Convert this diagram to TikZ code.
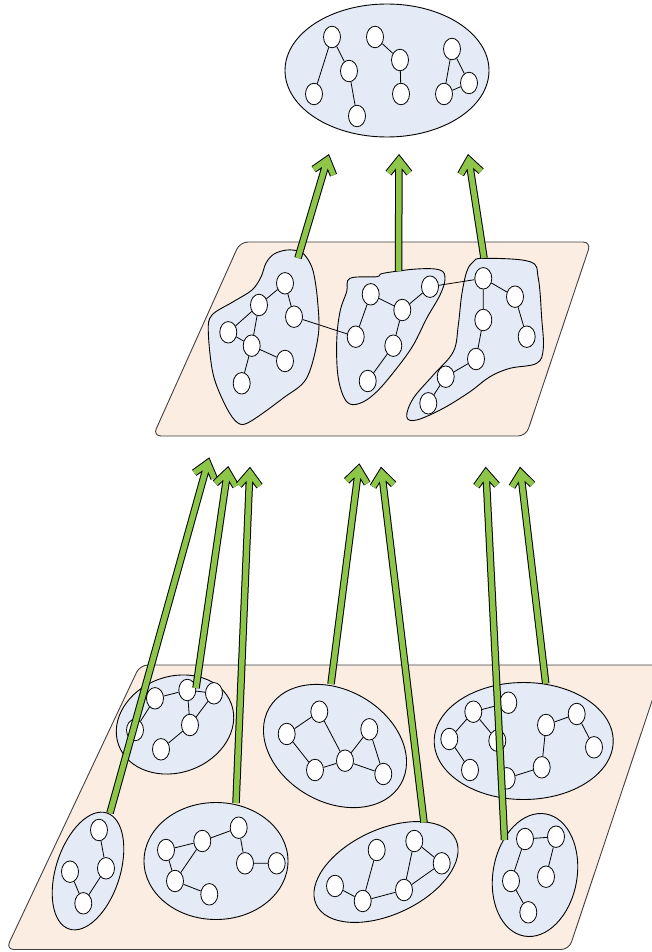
\documentclass[tikz,border=0pt]{standalone}
\usetikzlibrary{calc,shapes.geometric}
\definecolor{peach}{RGB}{252,237,227}
\definecolor{blobblue}{RGB}{228,235,246}
\definecolor{agreen}{RGB}{141,198,72}
\tikzset{
  plane/.style={fill=peach, draw=black!75, line width=0.9pt, rounded corners=8pt},
  blob/.style={fill=blobblue, draw=black, line width=0.9pt},
  cont/.style={blob, ellipse, inner sep=0pt},
  gn/.style={ellipse, draw=black, fill=white, line width=0.8pt, minimum width=17pt, minimum height=21.5pt, inner sep=0pt},
  ed/.style={line width=0.8pt},
  garrow/.style={draw=agreen, line width=5.5pt, line cap=butt, line join=miter,
    preaction={draw=black, line width=7.5pt}}
}
\newcommand\garr[2]{%
  \coordinate (#2p) at ($(#2)!6pt!(#1)$);
  \draw[garrow] (#1) -- (#2p)
    ($(#2p)!16.6pt!38.5:(#1)$) -- (#2p) -- ($(#2p)!16.6pt!-38.5:(#1)$);}
\begin{document}
\begin{tikzpicture}[x=1pt,y=-1pt]
\useasboundingbox (0,0) rectangle (652,952);
\clip (0,0) rectangle (652,952);
% planes
\draw[plane] (140,665) -- (664,665) -- (569,949.5) -- (6,949.5) -- cycle;
\draw[plane] (240,242) -- (591,242) -- (526,436) -- (153,436) -- cycle;
% top ellipse
\node[cont, minimum width=204pt, minimum height=133pt] (top) at (387,70.5) {};
% middle blobs
\draw[blob] plot[smooth cycle, tension=0.55] coordinates {(266,263) (274,254) (287,250) (300,251.5) (307,258) (313.3,271.7) (317.5,300) (318.3,335) (306.7,378) (283.3,398) (250,421.7) (238,423) (226.7,408) (213.3,375) (208.3,331.7) (212,315) (233.3,301.7) (252,290) (261,277)};
\draw[blob] plot[smooth cycle, tension=0.6] coordinates {(350,278.3) (376.7,276.7) (383.3,273.3) (416.7,269) (440,270) (445,279) (440,295) (426.7,318.3) (413.3,345) (396.7,368.3) (376.7,391.7) (360,403.3) (346.7,401.7) (338.3,378.3) (336.7,341.7) (340,311.7) (346.7,291.7)};
\draw[blob] plot[smooth cycle, tension=0.6] coordinates {(473.3,261.7) (483.3,258.3) (530,261.7) (538.3,278.3) (541.7,318.3) (543.3,348.3) (536.7,363.3) (510,368.3) (490,376.7) (470,391.7) (443.3,408.3) (416.7,420) (406.7,416.7) (413.3,398.3) (433.3,375) (453.3,351.7) (458.3,325) (461.7,295) (466.7,271.7)};
% bottom containers
\node[cont, minimum width=120pt, minimum height=96pt, rotate=20] (E1) at (175,724.5) {};
\node[cont, minimum width=152pt, minimum height=112pt, rotate=-30] (E2) at (335,746) {};
\node[cont, minimum width=179pt, minimum height=117pt] (E3) at (523.7,741) {};
\node[cont, minimum width=122pt, minimum height=64pt, rotate=72] (E4) at (88,871) {};
\node[cont, minimum width=144pt, minimum height=117pt] (E5) at (216,861) {};
\node[cont, minimum width=154pt, minimum height=85pt, rotate=25] (E6) at (386,872) {};
\node[cont, minimum width=124pt, minimum height=84pt, rotate=80] (E7) at (535,875) {};
% top graph
\node[gn] (t1) at (332,37) {};
\node[gn] (t2) at (349,71) {};
\node[gn] (t3) at (314,94) {};
\node[gn] (t4) at (357,116) {};
\node[gn] (t5) at (375,37) {};
\node[gn] (t6) at (400,60) {};
\node[gn] (t7) at (401,94) {};
\node[gn] (t8) at (452,49) {};
\node[gn] (t9) at (469,83) {};
\node[gn] (t10) at (444,94) {};
\draw[ed] (t1)--(t3) (t1)--(t2) (t2)--(t4) (t5)--(t6) (t6)--(t7) (t8)--(t10) (t8)--(t9) (t10)--(t9);
% middle graphs
\node[gn] (a1) at (285,283.3) {};
\node[gn] (a2) at (259,305) {};
\node[gn] (a3) at (294,316.7) {};
\node[gn] (a4) at (228.3,332.3) {};
\node[gn] (a5) at (251.7,345.7) {};
\node[gn] (a6) at (285,361) {};
\node[gn] (a7) at (241.7,383.3) {};
\node[gn] (b1) at (370.7,294.3) {};
\node[gn] (b2) at (430,286.7) {};
\node[gn] (b3) at (402.3,310) {};
\node[gn] (b4) at (355.7,336.7) {};
\node[gn] (b5) at (393.3,345.7) {};
\node[gn] (b6) at (367.7,381) {};
\node[gn] (c1) at (483.3,278.3) {};
\node[gn] (c2) at (515,296.7) {};
\node[gn] (c3) at (483.3,320) {};
\node[gn] (c4) at (526.7,336.7) {};
\node[gn] (c5) at (476,359) {};
\node[gn] (c6) at (445.7,376.7) {};
\node[gn] (c7) at (428.3,403.3) {};
\draw[ed] (a1)--(a2) (a1)--(a3) (a2)--(a4) (a2)--(a5) (a4)--(a5) (a5)--(a6) (a5)--(a7) (a3)--(b4);
\draw[ed] (b1)--(b3) (b3)--(b2) (b1)--(b4) (b3)--(b5) (b5)--(b6) (b2)--(c1);
\draw[ed] (c1)--(c2) (c2)--(c4) (c1)--(c3) (c3)--(c5) (c5)--(c6) (c6)--(c7);
% bottom graphs
\node[gn] (d1) at (155,698.3) {};
\node[gn] (d2) at (187.3,690) {};
\node[gn] (d3) at (214,693.3) {};
\node[gn] (d4) at (190,725) {};
\node[gn] (d5) at (135,730) {};
\node[gn] (d6) at (161,749.3) {};
\draw[ed] (d1)--(d2) (d2)--(d3) (d2)--(d4) (d3)--(d4) (d4)--(d6) (d1)--(d5);
\node[gn] (e1) at (286.7,734) {};
\node[gn] (e2) at (319.3,711.7) {};
\node[gn] (e3) at (315,770) {};
\node[gn] (e4) at (345,760.7) {};
\node[gn] (e5) at (369.3,729.3) {};
\node[gn] (e6) at (383.3,774) {};
\draw[ed] (e1)--(e2) (e1)--(e3) (e2)--(e4) (e3)--(e4) (e4)--(e5) (e4)--(e6) (e5)--(e6);
\node[gn] (f1) at (473.3,711.7) {};
\node[gn] (f2) at (508.3,702.7) {};
\node[gn] (f3) at (449.3,739) {};
\node[gn] (f4) at (497.3,740.7) {};
\node[gn] (f5) at (470,770) {};
\node[gn] (f6) at (506.7,778.3) {};
\node[gn] (f7) at (541.7,767.3) {};
\node[gn] (f8) at (546,725) {};
\node[gn] (f9) at (576.7,714) {};
\node[gn] (f10) at (594,747.3) {};
\draw[ed] (f1)--(f2) (f1)--(f3) (f3)--(f5) (f1)--(f4) (f6)--(f7) (f7)--(f8) (f8)--(f9) (f9)--(f10);
\node[gn] (g1) at (99,830) {};
\node[gn] (g2) at (70,871.7) {};
\node[gn] (g3) at (106,868.3) {};
\node[gn] (g4) at (83.3,903.3) {};
\draw[ed] (g1)--(g3) (g3)--(g4) (g2)--(g4);
\node[gn] (h1) at (166,850) {};
\node[gn] (h2) at (202.3,841) {};
\node[gn] (h3) at (238.7,827.7) {};
\node[gn] (h4) at (245,863.3) {};
\node[gn] (h5) at (276.7,863.3) {};
\node[gn] (h6) at (175,881) {};
\node[gn] (h7) at (209.3,894.3) {};
\draw[ed] (h1)--(h2) (h2)--(h3) (h3)--(h4) (h4)--(h5) (h1)--(h6) (h2)--(h6) (h6)--(h7);
\node[gn] (i1) at (376.7,850) {};
\node[gn] (i2) at (414.3,841) {};
\node[gn] (i3) at (441.7,863.3) {};
\node[gn] (i4) at (335,886) {};
\node[gn] (i5) at (362.7,901) {};
\node[gn] (i6) at (404,890) {};
\draw[ed] (i1)--(i5) (i4)--(i5) (i5)--(i6) (i6)--(i2) (i2)--(i3) (i3)--(i6);
\node[gn] (j1) at (525,839) {};
\node[gn] (j2) at (556,836.7) {};
\node[gn] (j3) at (511,881) {};
\node[gn] (j4) at (546,876.7) {};
\node[gn] (j5) at (528.3,912.3) {};
\draw[ed] (j1)--(j2) (j2)--(j4) (j1)--(j3) (j3)--(j5);
% arrow ends
\coordinate (sT1) at (298,258);   \coordinate (tT1) at (329,154);
\coordinate (sT2) at (398.5,271); \coordinate (tT2) at (399,154);
\coordinate (sT3) at (484,258);   \coordinate (tT3) at (468,154);
\coordinate (s1) at (110,813);    \coordinate (u1) at (209.3,457.3);
\coordinate (s2) at (196,688);    \coordinate (u2) at (228.3,466);
\coordinate (s3) at (236,803);    \coordinate (u3) at (250,466.7);
\coordinate (s4) at (331,684);    \coordinate (u4) at (359.3,463.3);
\coordinate (s5) at (424,822.5);  \coordinate (u5) at (381,466.7);
\coordinate (s6) at (504.5,840);  \coordinate (u6) at (485.7,466.7);
\coordinate (s7) at (545.7,683.5);\coordinate (u7) at (520,466.7);
\garr{sT1}{tT1}
\garr{sT2}{tT2}
\garr{sT3}{tT3}
\garr{s1}{u1}
\garr{s2}{u2}
\garr{s3}{u3}
\garr{s4}{u4}
\garr{s5}{u5}
\garr{s6}{u6}
\garr{s7}{u7}
\end{tikzpicture}
\end{document}
